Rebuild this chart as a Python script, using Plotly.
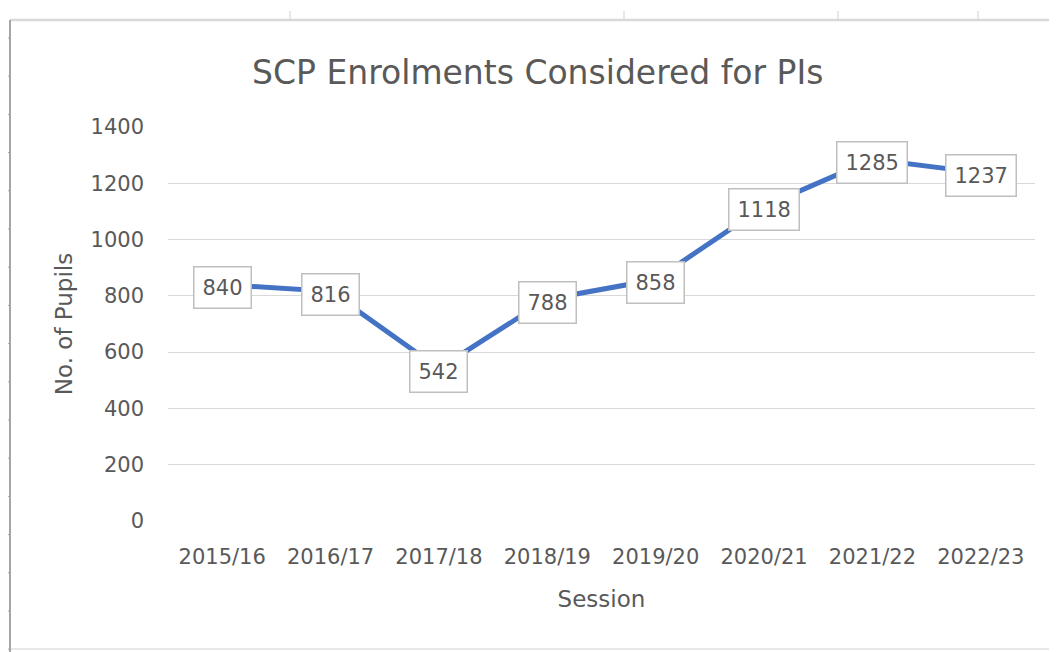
import plotly.graph_objects as go

sessions = ["2015/16", "2016/17", "2017/18", "2018/19", "2019/20", "2020/21", "2021/22", "2022/23"]
pupils = [840, 816, 542, 788, 858, 1118, 1285, 1237]
y_ticks = [0, 200, 400, 600, 800, 1000, 1200, 1400]

title_text = "SCP Enrolments Considered for PIs"
x_title = "Session"
y_title = "No. of Pupils"

FONT = "DejaVu Sans"
GRAY = "#595959"

# page has an 8px body margin; figure sized to fit the viewport
W, H = 1049, 644
L, R, T, B = 160, 22, 119, 131
PW, PH = W - L - R, H - T - B
PB = H - B


def px(fx):
    return (fx - L) / PW


def py(fy):
    return (PB - fy) / PH


fig = go.Figure()
fig.add_trace(go.Scatter(
    x=sessions, y=pupils, mode="lines",
    line=dict(color="#4472C4", width=5),
    hoverinfo="x+y", showlegend=False,
))

for s, v in zip(sessions, pupils):
    fig.add_annotation(
        x=s, y=v, xref="x", yref="y", text=str(v), showarrow=False,
        yshift=-3,
        font=dict(family=FONT, size=21, color=GRAY),
        bgcolor="white", bordercolor="#bfbfbf", borderwidth=1.5, borderpad=8,
    )

# spreadsheet frame around the chart object
fig.add_shape(type="line", xref="paper", yref="paper",
              x0=px(2), x1=px(W), y0=py(12), y1=py(12),
              line=dict(color="#d9d9d9", width=2.5))
fig.add_shape(type="line", xref="paper", yref="paper",
              x0=px(2), x1=px(W), y0=py(641), y1=py(641),
              line=dict(color="#e8e8e8", width=2))
fig.add_shape(type="line", xref="paper", yref="paper",
              x0=px(2), x1=px(2), y0=py(12), y1=py(H),
              line=dict(color="#a6a6a6", width=2))
for tx in [282, 616, 830, 970]:
    fig.add_shape(type="line", xref="paper", yref="paper",
                  x0=px(tx), x1=px(tx), y0=py(12), y1=py(3),
                  line=dict(color="#d0d0d0", width=1))
for i in range(17):
    ty = 30 + i * 38.2
    fig.add_shape(type="line", xref="paper", yref="paper",
                  x0=px(-2), x1=px(2), y0=py(ty), y1=py(ty),
                  line=dict(color="#a6a6a6", width=1))

fig.update_layout(
    width=W, height=H,
    margin=dict(l=L, r=R, t=T, b=B),
    paper_bgcolor="white", plot_bgcolor="white",
    title=dict(text=title_text, x=0.505, xanchor="center", y=1 - 64 / H, yanchor="middle",
               font=dict(family=FONT, size=33, color=GRAY)),
    font=dict(family=FONT, color=GRAY),
    xaxis=dict(
        type="category", range=[-0.5, 7.5], showgrid=False, zeroline=False,
        showline=False, ticks="", ticklabelstandoff=21,
        tickfont=dict(family=FONT, size=21, color=GRAY),
        title=dict(text=x_title, font=dict(family=FONT, size=23, color=GRAY), standoff=22),
    ),
    yaxis=dict(
        range=[0, 1400], tickvals=y_ticks, showgrid=True, gridcolor="#d9d9d9", gridwidth=1,
        zeroline=False, showline=False, ticks="", ticklabelstandoff=23,
        tickfont=dict(family=FONT, size=21, color=GRAY),
        title=dict(text=y_title, font=dict(family=FONT, size=23, color=GRAY), standoff=11),
    ),
)

fig.write_html("out.html")
